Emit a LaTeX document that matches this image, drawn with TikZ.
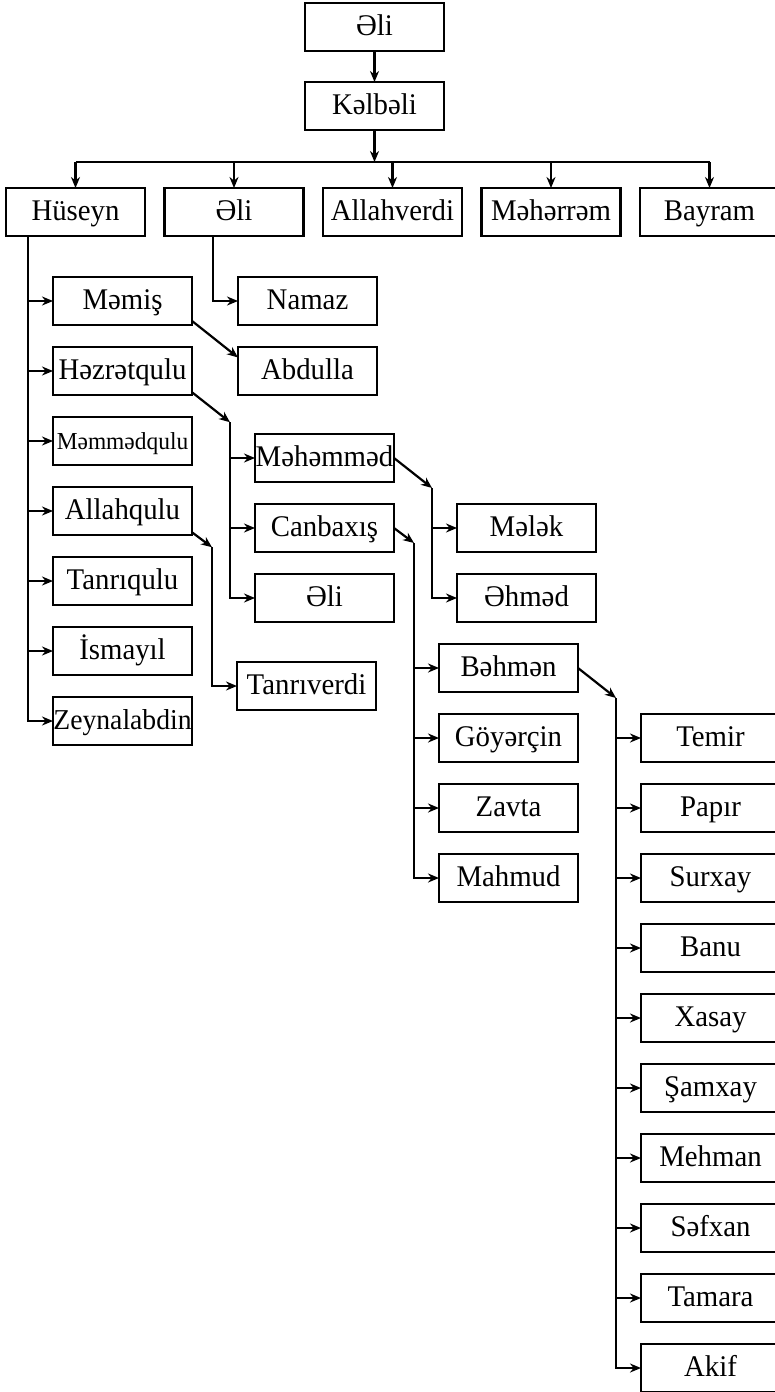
\documentclass[tikz,border=0pt]{standalone}
\usepackage{fontspec}
\setmainfont{Liberation Serif}[FakeStretch=0.96]
\usetikzlibrary{arrows.meta, positioning, calc}
\tikzset{
  name box/.style={draw, line width=1.1pt, minimum width=69.5pt,
                   minimum height=24pt, inner sep=0pt, outer sep=0pt,
                   text height=11pt, text depth=2.2pt,
                   font=\fontsize{15}{17}\selectfont},
  kin line/.style={line width=1.1pt},
  kin edge/.style={kin line, -{Stealth[length=5.5pt, width=4.5pt]}},
}
\begin{document}
\begin{tikzpicture}
  \useasboundingbox (0,0) rectangle (387.5pt,-696pt);
  % first generation
  \node[name box] (hus) at (37.75pt,-106pt) {Hüseyn};
  \node[name box, right=9.75pt of hus] (ali1) {Əli};
  \node[name box, right=9.75pt of ali1] (allah) {Allahverdi};
  \node[name box, right=9.75pt of allah] (mahar) {Məhərrəm};
  \node[name box, right=9.75pt of mahar] (bay) {Bayram};
  \node[name box, above=29pt of allah, xshift=-9pt] (kelb) {Kəlbəli};
  \node[name box, above=15.5pt of kelb] (ali0) {Əli};
  % sons of Hüseyn
  \node[name box, below right=20.5pt and 23.5pt of hus.south west] (mamis) {Məmiş};
  \node[name box, below=11pt of mamis] (hazr) {Həzrətqulu};
  \node[name box, below=11pt of hazr, font=\fontsize{12.2}{14}\selectfont] (mamq) {Məmmədqulu};
  \node[name box, below=11pt of mamq] (allq) {Allahqulu};
  \node[name box, below=11pt of allq] (tanq) {Tanrıqulu};
  \node[name box, below=11pt of tanq] (ism) {İsmayıl};
  \node[name box, below=11pt of ism, font=\fontsize{14.4}{16}\selectfont] (zeyn) {Zeynalabdin};
  % sons of Əli
  \node[name box, below right=20.5pt and 36.75pt of ali1.south west] (namaz) {Namaz};
  \node[name box, below=11pt of namaz] (abd) {Abdulla};
  % third generation
  \node[name box, below right=19.5pt and 31.5pt of hazr.south east] (mah) {Məhəmməd};
  \node[name box, below=11pt of mah] (canb) {Canbaxış};
  \node[name box, below=11pt of canb] (ali3) {Əli};
  \node[name box, right=31.5pt of canb] (melek) {Mələk};
  \node[name box, right=31.5pt of ali3] (ahmad) {Əhməd};
  \node[name box, below right=63.5pt and 22.5pt of allq.south east] (tanv) {Tanrıverdi};
  \node[name box, below right=11pt and 22.5pt of ali3.south east] (bahm) {Bəhmən};
  \node[name box, below=11pt of bahm] (goy) {Göyərçin};
  \node[name box, below=11pt of goy] (zavta) {Zavta};
  \node[name box, below=11pt of zavta] (mahmud) {Mahmud};
  % sons of Bəhmən
  \node[name box, right=31.5pt of goy] (temir) {Temir};
  \node[name box, below=11pt of temir] (papir) {Papır};
  \node[name box, below=11pt of papir] (surx) {Surxay};
  \node[name box, below=11pt of surx] (banu) {Banu};
  \node[name box, below=11pt of banu] (xasay) {Xasay};
  \node[name box, below=11pt of xasay] (samx) {Şamxay};
  \node[name box, below=11pt of samx] (mehm) {Mehman};
  \node[name box, below=11pt of mehm] (safx) {Səfxan};
  \node[name box, below=11pt of safx] (tamara) {Tamara};
  \node[name box, below=11pt of tamara] (akif) {Akif};

  % trunks and corners
  \coordinate (bar) at ($(kelb.south)+(0,-16pt)$);
  \coordinate (tr hus) at ($(hus.south west)+(11pt,0)$);
  \coordinate (tr ali) at ($(ali1.south west)+(24.25pt,0)$);
  \coordinate (tr hazr) at ($(hazr.-17)+(19pt,-15pt)$);
  \coordinate (tr allq) at ($(allq.-17)+(10pt,-7.5pt)$);
  \coordinate (tr mah) at ($(mah.east)+(19pt,-15pt)$);
  \coordinate (tr canb) at ($(canb.east)+(10pt,-7.5pt)$);
  \coordinate (tr bahm) at ($(bahm.east)+(19pt,-15pt)$);

  \draw[kin edge] (ali0) -- (kelb);
  \draw[kin edge] (kelb) -- (bar);
  \draw[kin line] (bar -| hus) -- (bar -| bay);
  \draw[kin edge] (bar -| hus) -- (hus);
  \draw[kin edge] (bar -| ali1) -- (ali1);
  \draw[kin edge] (bar -| allah) -- (allah);
  \draw[kin edge] (bar -| mahar) -- (mahar);
  \draw[kin edge] (bar -| bay) -- (bay);

  \draw[kin edge] (tr hus |- mamis) -- (mamis);
  \draw[kin edge] (tr hus |- hazr) -- (hazr);
  \draw[kin edge] (tr hus |- mamq) -- (mamq);
  \draw[kin edge] (tr hus |- allq) -- (allq);
  \draw[kin edge] (tr hus |- tanq) -- (tanq);
  \draw[kin edge] (tr hus |- ism) -- (ism);
  \draw[kin edge] (tr hus) |- (zeyn);

  \draw[kin edge] (tr ali) |- (namaz);
  \draw[kin edge] (mamis.-16) -- (abd.169);

  \draw[kin edge] (hazr.-17) -- (tr hazr);
  \draw[kin edge] (tr hazr |- mah) -- (mah);
  \draw[kin edge] (tr hazr |- canb) -- (canb);
  \draw[kin edge] (tr hazr) |- (ali3);

  \draw[kin edge] (allq.-17) -- (tr allq);
  \draw[kin edge] (tr allq) |- (tanv);

  \draw[kin edge] (mah.east) -- (tr mah);
  \draw[kin edge] (tr mah |- melek) -- (melek);
  \draw[kin edge] (tr mah) |- (ahmad);

  \draw[kin edge] (canb.east) -- (tr canb);
  \draw[kin edge] (tr canb |- bahm) -- (bahm);
  \draw[kin edge] (tr canb |- goy) -- (goy);
  \draw[kin edge] (tr canb |- zavta) -- (zavta);
  \draw[kin edge] (tr canb) |- (mahmud);

  \draw[kin edge] (bahm.east) -- (tr bahm);
  \draw[kin edge] (tr bahm |- temir) -- (temir);
  \draw[kin edge] (tr bahm |- papir) -- (papir);
  \draw[kin edge] (tr bahm |- surx) -- (surx);
  \draw[kin edge] (tr bahm |- banu) -- (banu);
  \draw[kin edge] (tr bahm |- xasay) -- (xasay);
  \draw[kin edge] (tr bahm |- samx) -- (samx);
  \draw[kin edge] (tr bahm |- mehm) -- (mehm);
  \draw[kin edge] (tr bahm |- safx) -- (safx);
  \draw[kin edge] (tr bahm |- tamara) -- (tamara);
  \draw[kin edge] (tr bahm) |- (akif);
\end{tikzpicture}
\end{document}
